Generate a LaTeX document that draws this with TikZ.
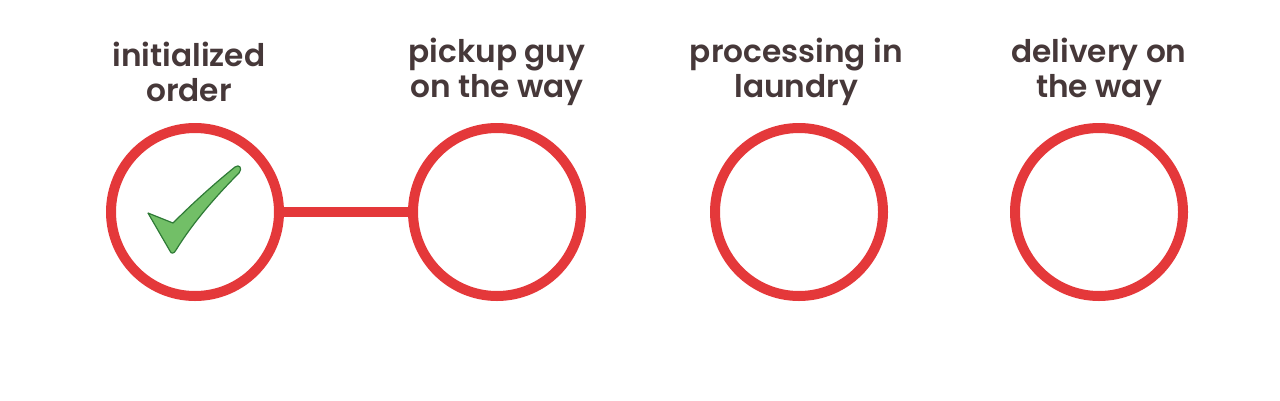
\documentclass[tikz,border=0pt]{standalone}
\usepackage{fontspec}
\setmainfont{Poppins}[BoldFont={Poppins SemiBold}]
\usepackage{tikz}
\usetikzlibrary{positioning}
\definecolor{ringred}{HTML}{E4383A}
\definecolor{textbrown}{HTML}{463839}
\definecolor{tickgreen}{HTML}{72BF67}
\definecolor{tickedge}{HTML}{2E7A36}

\begin{document}
\begin{tikzpicture}[
    x=0.75pt, y=-0.75pt, node distance=226.5pt, on grid,
    stage/.style={circle, draw=ringred, line width=7.5pt, minimum size=126pt, inner sep=0pt},
    caption/.style={font=\bfseries\fontsize{23.4pt}{26.6pt}\selectfont, text=textbrown, align=center},
    link/.style={draw=ringred, line width=7.5pt},
    tick/.style={fill=tickgreen, draw=tickedge, line width=0.9pt, line join=round}]
  \useasboundingbox (0,0) rectangle (1280,400);
  \node[stage] (init) at (195,212) {};
  \node[stage, right=of init] (pickup) {};
  \node[stage, right=of pickup] (process) {};
  \node[stage, right=225pt of process] (deliver) {};
  \node[caption, above=105pt of init, xshift=-4.5pt] (initlbl) {initialized\\order};
  \node[caption, above=105pt of pickup] (pickuplbl) {pickup guy\\on the way};
  \node[caption, above=105pt of process, xshift=-2pt] (processlbl) {processing in\\laundry};
  \node[caption, above=105pt of deliver] (deliverlbl) {delivery on\\the way};
  \draw[link] (init.east) -- (pickup.west);
  % green check mark inside the first ring
  \draw[tick] (148,213) -- (173,223)
    .. controls (193,203) and (214,184) .. (235,167)
    .. controls (239,164) and (243,168) .. (239,173)
    .. controls (215,197) and (192,224) .. (176,250)
    .. controls (174,254) and (171,254) .. (170,251) -- cycle;
\end{tikzpicture}
\end{document}
